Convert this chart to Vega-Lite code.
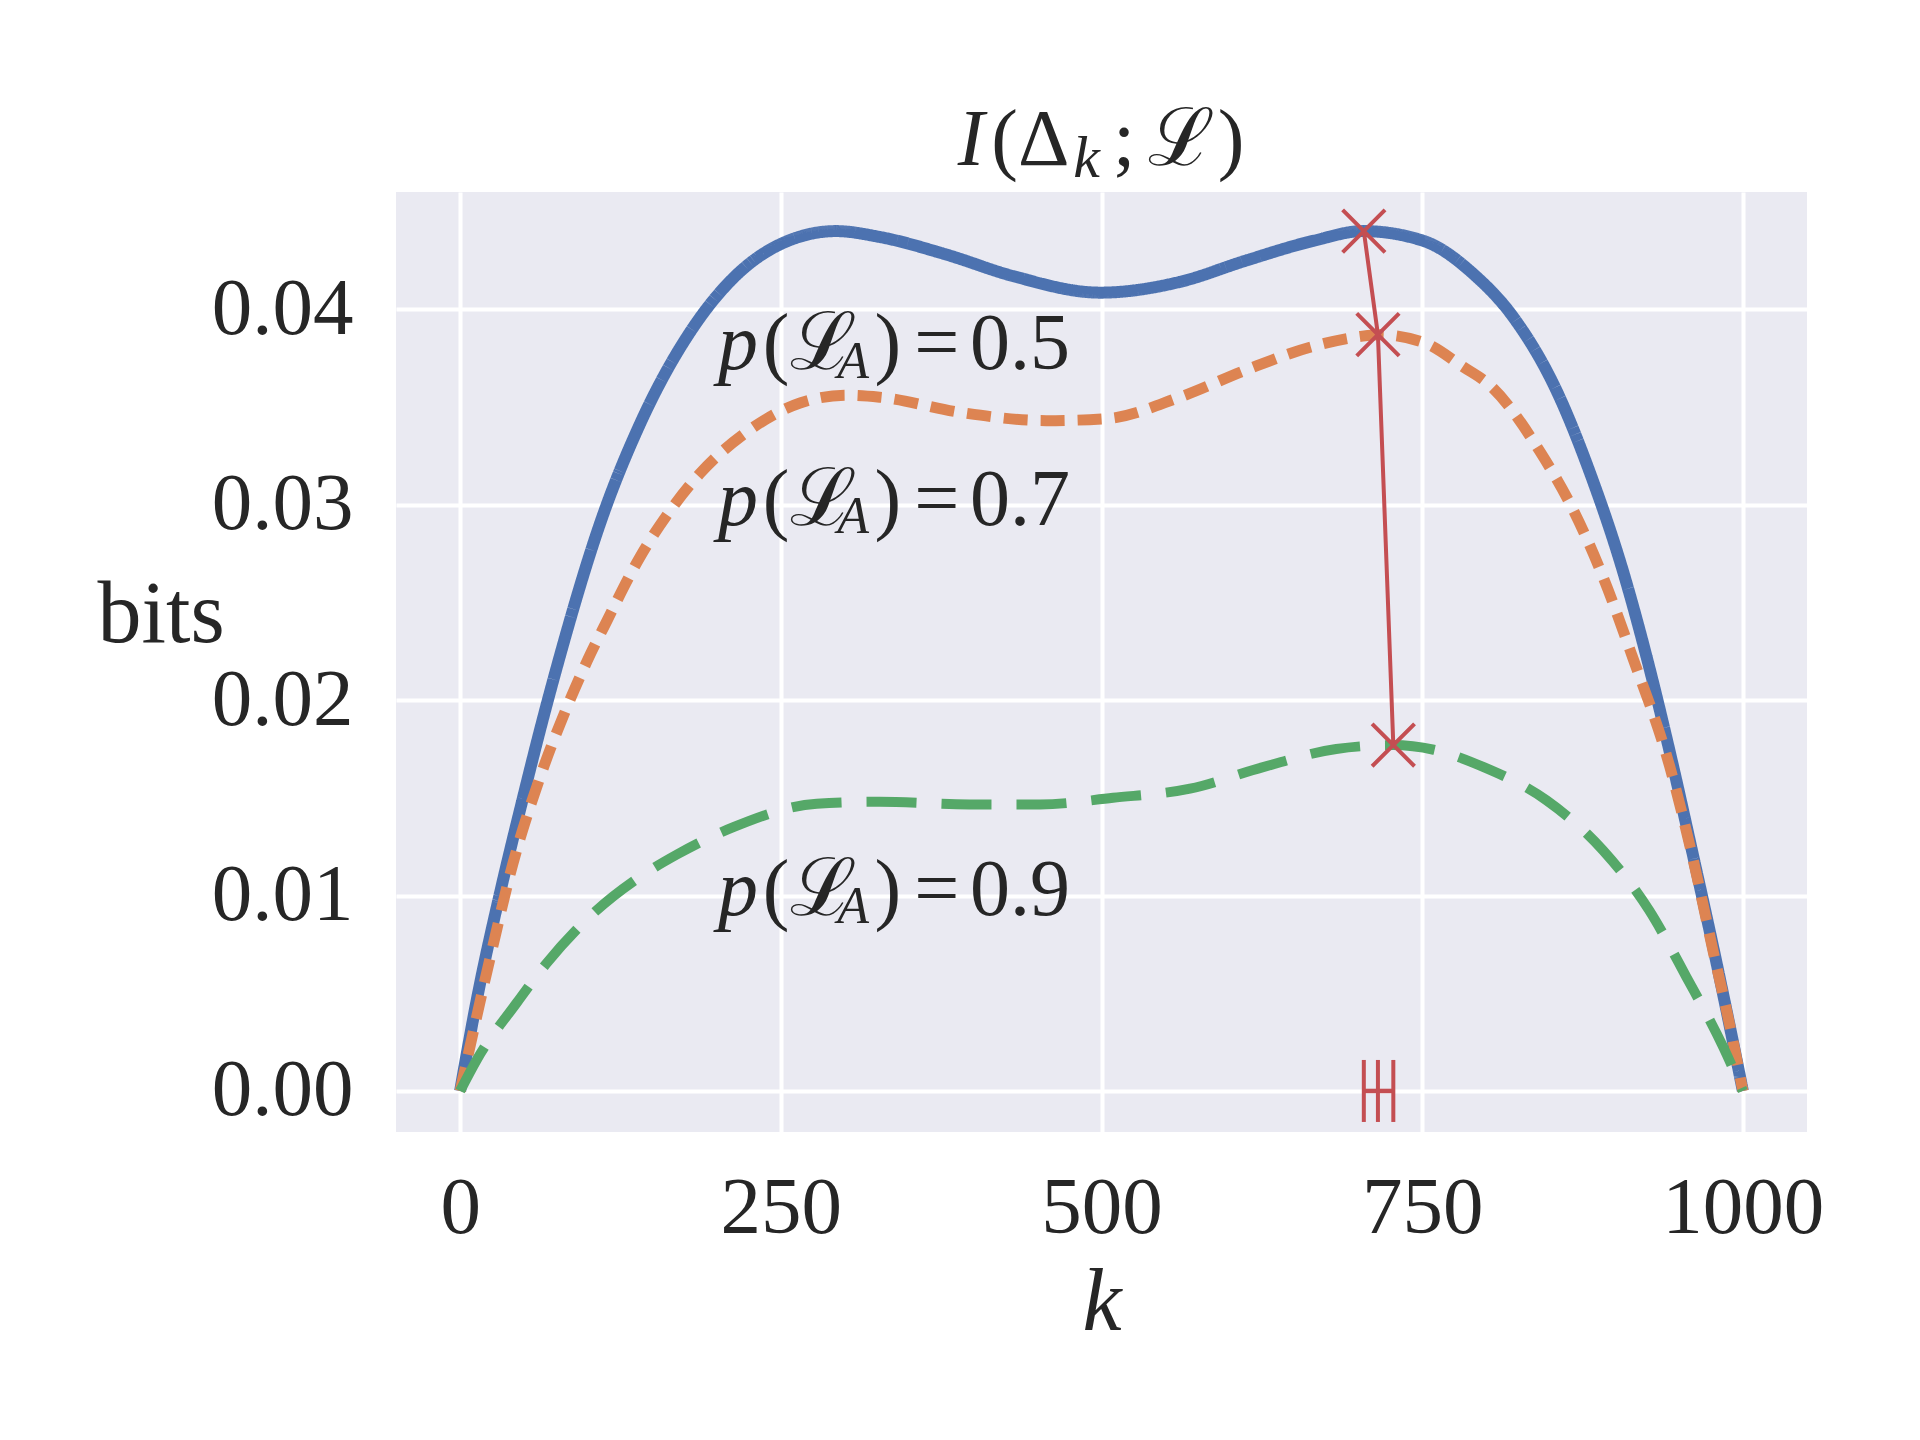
{
  "$schema": "https://vega.github.io/schema/vega-lite/v6.json",
  "autosize": {"type": "none"},
  "width": 1411,
  "height": 940,
  "padding": {"left": 396, "top": 192, "right": 113, "bottom": 308},
  "background": "#ffffff",
  "config": {
    "view": {"fill": "#EAEAF2", "stroke": null},
    "axis": {
      "domain": false,
      "ticks": false,
      "tickSize": 0,
      "grid": true,
      "gridColor": "#ffffff",
      "gridWidth": 4,
      "gridOpacity": 1,
      "labelFont": "Liberation Serif",
      "labelFontSize": 81,
      "labelColor": "#262626",
      "labelLimit": 0,
      "titleFont": "Liberation Serif",
      "titleFontSize": 88,
      "titleFontWeight": "normal",
      "titleColor": "#262626",
      "labelOverlap": false,
      "labelFlush": false
    }
  },
  "datasets": {
    "curves": [
      {"k": 0, "bits": 0, "p": "0.5"}, {"k": 14, "bits": 0.005, "p": "0.5"}, {"k": 31, "bits": 0.0101, "p": "0.5"}, {"k": 49, "bits": 0.015, "p": "0.5"}, {"k": 62, "bits": 0.0184, "p": "0.5"}, {"k": 75, "bits": 0.0216, "p": "0.5"}, {"k": 111, "bits": 0.0294, "p": "0.5"}, {"k": 140, "bits": 0.0341, "p": "0.5"}, {"k": 182, "bits": 0.0391, "p": "0.5"}, {"k": 213, "bits": 0.0416, "p": "0.5"}, {"k": 252, "bits": 0.0434, "p": "0.5"}, {"k": 293, "bits": 0.044, "p": "0.5"}, {"k": 327, "bits": 0.0437, "p": "0.5"}, {"k": 379, "bits": 0.0428, "p": "0.5"}, {"k": 431, "bits": 0.0417, "p": "0.5"}, {"k": 499, "bits": 0.04085, "p": "0.5"}, {"k": 561, "bits": 0.0414, "p": "0.5"}, {"k": 613, "bits": 0.0425, "p": "0.5"}, {"k": 665, "bits": 0.0435, "p": "0.5"}, {"k": 704, "bits": 0.044, "p": "0.5"}, {"k": 751, "bits": 0.0435, "p": "0.5"}, {"k": 790, "bits": 0.0418, "p": "0.5"}, {"k": 821, "bits": 0.0396, "p": "0.5"}, {"k": 855, "bits": 0.0358, "p": "0.5"}, {"k": 881, "bits": 0.0316, "p": "0.5"}, {"k": 907, "bits": 0.0265, "p": "0.5"}, {"k": 925, "bits": 0.0222, "p": "0.5"}, {"k": 946, "bits": 0.0165, "p": "0.5"}, {"k": 961, "bits": 0.0121, "p": "0.5"}, {"k": 979, "bits": 0.0067, "p": "0.5"}, {"k": 992, "bits": 0.0026, "p": "0.5"}, {"k": 1000, "bits": 0, "p": "0.5"},
      {"k": 0, "bits": 0, "p": "0.7"}, {"k": 23, "bits": 0.0067, "p": "0.7"}, {"k": 41, "bits": 0.0116, "p": "0.7"}, {"k": 62, "bits": 0.016, "p": "0.7"}, {"k": 83, "bits": 0.0196, "p": "0.7"}, {"k": 99, "bits": 0.022, "p": "0.7"}, {"k": 114, "bits": 0.024, "p": "0.7"}, {"k": 140, "bits": 0.0273, "p": "0.7"}, {"k": 166, "bits": 0.0299, "p": "0.7"}, {"k": 187, "bits": 0.0316, "p": "0.7"}, {"k": 223, "bits": 0.0337, "p": "0.7"}, {"k": 265, "bits": 0.0352, "p": "0.7"}, {"k": 301, "bits": 0.0356, "p": "0.7"}, {"k": 327, "bits": 0.0355, "p": "0.7"}, {"k": 392, "bits": 0.0347, "p": "0.7"}, {"k": 457, "bits": 0.0343, "p": "0.7"}, {"k": 504, "bits": 0.0344, "p": "0.7"}, {"k": 561, "bits": 0.0355, "p": "0.7"}, {"k": 613, "bits": 0.0369, "p": "0.7"}, {"k": 665, "bits": 0.0381, "p": "0.7"}, {"k": 701, "bits": 0.0386, "p": "0.7"}, {"k": 716, "bits": 0.0387, "p": "0.7"}, {"k": 751, "bits": 0.0383, "p": "0.7"}, {"k": 782, "bits": 0.03705, "p": "0.7"}, {"k": 803, "bits": 0.0361, "p": "0.7"}, {"k": 842, "bits": 0.0327, "p": "0.7"}, {"k": 868, "bits": 0.0297, "p": "0.7"}, {"k": 891, "bits": 0.0263, "p": "0.7"}, {"k": 914, "bits": 0.0222, "p": "0.7"}, {"k": 943, "bits": 0.0166, "p": "0.7"}, {"k": 961, "bits": 0.0119, "p": "0.7"}, {"k": 977, "bits": 0.0071, "p": "0.7"}, {"k": 990, "bits": 0.0033, "p": "0.7"}, {"k": 1000, "bits": 0, "p": "0.7"},
      {"k": 0, "bits": 0, "p": "0.9"}, {"k": 13, "bits": 0.0016, "p": "0.9"}, {"k": 44, "bits": 0.0045, "p": "0.9"}, {"k": 67, "bits": 0.0065, "p": "0.9"}, {"k": 104, "bits": 0.0091, "p": "0.9"}, {"k": 140, "bits": 0.01095, "p": "0.9"}, {"k": 169, "bits": 0.0121, "p": "0.9"}, {"k": 213, "bits": 0.0135, "p": "0.9"}, {"k": 278, "bits": 0.0147, "p": "0.9"}, {"k": 327, "bits": 0.0148, "p": "0.9"}, {"k": 397, "bits": 0.01466, "p": "0.9"}, {"k": 452, "bits": 0.01466, "p": "0.9"}, {"k": 509, "bits": 0.015, "p": "0.9"}, {"k": 569, "bits": 0.01547, "p": "0.9"}, {"k": 626, "bits": 0.01657, "p": "0.9"}, {"k": 683, "bits": 0.0175, "p": "0.9"}, {"k": 727, "bits": 0.0177, "p": "0.9"}, {"k": 759, "bits": 0.01746, "p": "0.9"}, {"k": 798, "bits": 0.01657, "p": "0.9"}, {"k": 847, "bits": 0.01487, "p": "0.9"}, {"k": 891, "bits": 0.01231, "p": "0.9"}, {"k": 927, "bits": 0.00924, "p": "0.9"}, {"k": 956, "bits": 0.00583, "p": "0.9"}, {"k": 985, "bits": 0.0022, "p": "0.9"}, {"k": 1000, "bits": 0, "p": "0.9"}
    ],
    "argmax": [
      {"k": 704.5, "bits": 0.044, "p": "0.5"},
      {"k": 715.5, "bits": 0.0387, "p": "0.7"},
      {"k": 727.5, "bits": 0.0177, "p": "0.9"}
    ],
    "rug": [
      {"k": 704.5, "bits": 0, "p": "0.5"},
      {"k": 715.5, "bits": 0, "p": "0.7"},
      {"k": 727.5, "bits": 0, "p": "0.9"}
    ],
    "texts": [
      {"k": 388.0, "bits": 0.0474, "text": "I", "kind": "it"},
      {"k": 414.0, "bits": 0.0474, "text": "(", "kind": "rm"},
      {"k": 435.0, "bits": 0.0474, "text": "Δ", "kind": "rm"},
      {"k": 478.0, "bits": 0.04675, "text": "k", "kind": "tsub"},
      {"k": 509.0, "bits": 0.0474, "text": ";", "kind": "rm"},
      {"k": 536.0, "bits": 0.0474, "text": "ℒ", "kind": "rm"},
      {"k": 590.7, "bits": 0.0474, "text": ")", "kind": "rm"},
      {"k": 201.0, "bits": 0.03692, "text": "p", "kind": "it"},
      {"k": 236.0, "bits": 0.03692, "text": "(ℒ", "kind": "rm"},
      {"k": 294.0, "bits": 0.0365, "text": "A", "kind": "sub"},
      {"k": 323.0, "bits": 0.03692, "text": ")", "kind": "rm"},
      {"k": 354.0, "bits": 0.03692, "text": "=", "kind": "rm"},
      {"k": 397.5, "bits": 0.03692, "text": "0.5", "kind": "rm"},
      {"k": 201.0, "bits": 0.02895, "text": "p", "kind": "it"},
      {"k": 236.0, "bits": 0.02895, "text": "(ℒ", "kind": "rm"},
      {"k": 294.0, "bits": 0.02853, "text": "A", "kind": "sub"},
      {"k": 323.0, "bits": 0.02895, "text": ")", "kind": "rm"},
      {"k": 354.0, "bits": 0.02895, "text": "=", "kind": "rm"},
      {"k": 397.5, "bits": 0.02895, "text": "0.7", "kind": "rm"},
      {"k": 201.0, "bits": 0.009, "text": "p", "kind": "it"},
      {"k": 236.0, "bits": 0.009, "text": "(ℒ", "kind": "rm"},
      {"k": 294.0, "bits": 0.00858, "text": "A", "kind": "sub"},
      {"k": 323.0, "bits": 0.009, "text": ")", "kind": "rm"},
      {"k": 354.0, "bits": 0.009, "text": "=", "kind": "rm"},
      {"k": 397.5, "bits": 0.009, "text": "0.9", "kind": "rm"}
    ]
  },
  "encoding": {
    "x": {
      "field": "k", "type": "quantitative",
      "scale": {"domain": [-50, 1050], "nice": false, "zero": false},
      "axis": {
        "title": "k", "titleFontStyle": "italic", "titleBaseline": "alphabetic", "titleY": 197,
        "values": [0, 250, 500, 750, 1000], "format": "d", "labelBaseline": "alphabetic", "labelPadding": 100
      }
    },
    "y": {
      "field": "bits", "type": "quantitative",
      "scale": {"domain": [-0.0021, 0.046], "nice": false, "zero": false},
      "axis": {
        "title": "bits", "titleAngle": 0, "titleAlign": "left", "titleBaseline": "alphabetic",
        "titleX": -299, "titleY": 449,
        "values": [0, 0.01, 0.02, 0.03, 0.04], "format": ".2f", "labelPadding": 43, "labelBaseline": "middle"
      }
    }
  },
  "layer": [
    {
      "data": {"name": "curves"},
      "mark": {"type": "line", "interpolate": "monotone", "strokeCap": "butt"},
      "encoding": {
        "color": {"field": "p", "type": "nominal", "scale": {"domain": ["0.5", "0.7", "0.9"], "range": ["#4C72B0", "#DD8452", "#55A868"]}, "legend": null},
        "strokeDash": {"field": "p", "type": "nominal", "scale": {"domain": ["0.5", "0.7", "0.9"], "range": [[1, 0], [24, 13], [50, 25]]}, "legend": null},
        "strokeWidth": {"field": "p", "type": "nominal", "scale": {"domain": ["0.5", "0.7", "0.9"], "range": [12, 10, 11.5]}, "legend": null}
      }
    },
    {
      "data": {"name": "argmax"},
      "mark": {"type": "line", "color": "#C44E52", "strokeWidth": 4},
      "encoding": {"order": {"field": "k", "type": "quantitative"}}
    },
    {
      "data": {"name": "argmax"},
      "mark": {"type": "point", "shape": "M-1,-1L1,1M-1,1L1,-1", "size": 1800, "filled": false, "stroke": "#C44E52", "strokeWidth": 4, "opacity": 1},
      "encoding": {}
    },
    {
      "data": {"name": "rug"},
      "mark": {"type": "line", "color": "#C44E52", "strokeWidth": 4.5},
      "encoding": {"order": {"field": "k", "type": "quantitative"}}
    },
    {
      "data": {"name": "rug"},
      "mark": {"type": "point", "shape": "M0,-1L0,1", "size": 3844, "filled": false, "stroke": "#C44E52", "strokeWidth": 4, "opacity": 1},
      "encoding": {}
    },
    {
      "data": {"name": "texts"},
      "transform": [{"filter": "datum.kind === 'rm'"}],
      "mark": {"type": "text", "align": "left", "baseline": "alphabetic", "font": "Liberation Serif, DejaVu Serif", "fontSize": 80, "color": "#262626"},
      "encoding": {"text": {"field": "text"}}
    },
    {
      "data": {"name": "texts"},
      "transform": [{"filter": "datum.kind === 'it'"}],
      "mark": {"type": "text", "align": "left", "baseline": "alphabetic", "font": "Liberation Serif", "fontStyle": "italic", "fontSize": 80, "color": "#262626"},
      "encoding": {"text": {"field": "text"}}
    },
    {
      "data": {"name": "texts"},
      "transform": [{"filter": "datum.kind === 'sub'"}],
      "mark": {"type": "text", "align": "left", "baseline": "alphabetic", "font": "Liberation Serif", "fontStyle": "italic", "fontSize": 52, "color": "#262626"},
      "encoding": {"text": {"field": "text"}}
    },
    {
      "data": {"name": "texts"},
      "transform": [{"filter": "datum.kind === 'tsub'"}],
      "mark": {"type": "text", "align": "left", "baseline": "alphabetic", "font": "Liberation Serif", "fontStyle": "italic", "fontSize": 60, "color": "#262626"},
      "encoding": {"text": {"field": "text"}}
    }
  ]
}
